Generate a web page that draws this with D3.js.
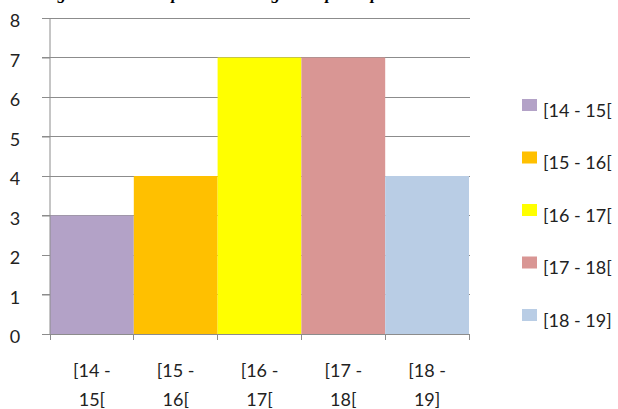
<!DOCTYPE html>
<html><head><meta charset="utf-8">
<script src="https://cdn.jsdelivr.net/npm/d3@7"></script>
<style>body{margin:0;background:#fff}svg{display:block}</style>
</head><body>
<svg id="c" width="618" height="409"></svg>
<script>
const title = "Histogramme de la répartition des âges des participants";
const categories = ["[14 - 15[", "[15 - 16[", "[16 - 17[", "[17 - 18[", "[18 - 19]"];
const axisLine1 = ["[14 -", "[15 -", "[16 -", "[17 -", "[18 -"];
const axisLine2 = ["15[", "16[", "17[", "18[", "19]"];
const values = [3, 4, 7, 7, 4];
const colors = ["#b3a2c7", "#ffc000", "#ffff00", "#d99694", "#b9cde5"];
const yTicks = [0, 1, 2, 3, 4, 5, 6, 7, 8];

const svg = d3.select("#c");
const font = "Lato, 'Open Sans', sans-serif";
const x = d3.scaleBand().domain(categories).range([50, 469]).padding(0);
const y = d3.scaleLinear().domain([0, 8]).range([334, 18]);

svg.append("text").attr("x", 20).attr("y", -1)
  .attr("font-family", "'Liberation Serif', serif").attr("font-weight", "bold")
  .attr("font-style", "italic").attr("font-size", 17).attr("fill", "#000").text(title);

// gridlines
svg.append("g").selectAll("line").data(yTicks.filter(d => d > 0)).join("line")
  .attr("x1", 42).attr("x2", 470).attr("y1", d => y(d)).attr("y2", d => y(d))
  .attr("stroke", "#8c8c8c").attr("stroke-width", 1).attr("shape-rendering", "crispEdges");

// bars
svg.append("g").selectAll("rect").data(values).join("rect")
  .attr("x", (d, i) => x(categories[i])).attr("width", x.bandwidth())
  .attr("y", d => y(d)).attr("height", d => y(0) - y(d))
  .attr("fill", (d, i) => colors[i]);

// y axis
const ya = svg.append("g").attr("transform", "translate(50,0)")
  .call(d3.axisLeft(y).tickValues(yTicks).tickSize(8).tickFormat(d3.format("d")));
ya.select(".domain").attr("stroke", "#8c8c8c").attr("d", `M0,${y(8)}V${y(0)}`);
ya.selectAll(".tick line").attr("stroke", "#8c8c8c");
ya.selectAll(".tick text").attr("font-family", font).attr("font-size", 18).attr("fill", "#222")
  .attr("text-anchor", "middle").attr("x", -35).attr("dy", null).attr("y", 8.5);

// x axis
const boundaries = categories.map(c => x(c)).concat([x(categories[categories.length - 1]) + x.bandwidth()]);
svg.append("line").attr("x1", 42).attr("x2", 470).attr("y1", y(0)).attr("y2", y(0))
  .attr("stroke", "#8c8c8c").attr("shape-rendering", "crispEdges");
svg.append("g").selectAll("line").data(boundaries).join("line")
  .attr("x1", d => d).attr("x2", d => d).attr("y1", y(0)).attr("y2", y(0) + 6)
  .attr("stroke", "#8c8c8c").attr("shape-rendering", "crispEdges");
const xl = svg.append("g").selectAll("text").data(categories).join("text")
  .attr("font-family", font).attr("font-size", 18).attr("fill", "#222").attr("text-anchor", "middle")
  .attr("x", d => x(d) + x.bandwidth() / 2);
xl.append("tspan").attr("x", d => x(d) + x.bandwidth() / 2).attr("y", 377).text((d, i) => axisLine1[i]);
xl.append("tspan").attr("x", d => x(d) + x.bandwidth() / 2).attr("y", 406).text((d, i) => axisLine2[i]);

// legend
const ly = d3.scalePoint().domain(categories).range([105, 315]);
const lg = svg.append("g").selectAll("g").data(categories).join("g")
  .attr("transform", d => `translate(522,${ly(d)})`);
lg.append("rect").attr("x", 0).attr("y", -6).attr("width", 15).attr("height", 12)
  .attr("fill", (d, i) => colors[i]);
lg.append("text").attr("x", 21).attr("y", 11.5).attr("font-family", font).attr("font-size", 18)
  .attr("fill", "#222").text(d => d);
</script>
</body></html>
